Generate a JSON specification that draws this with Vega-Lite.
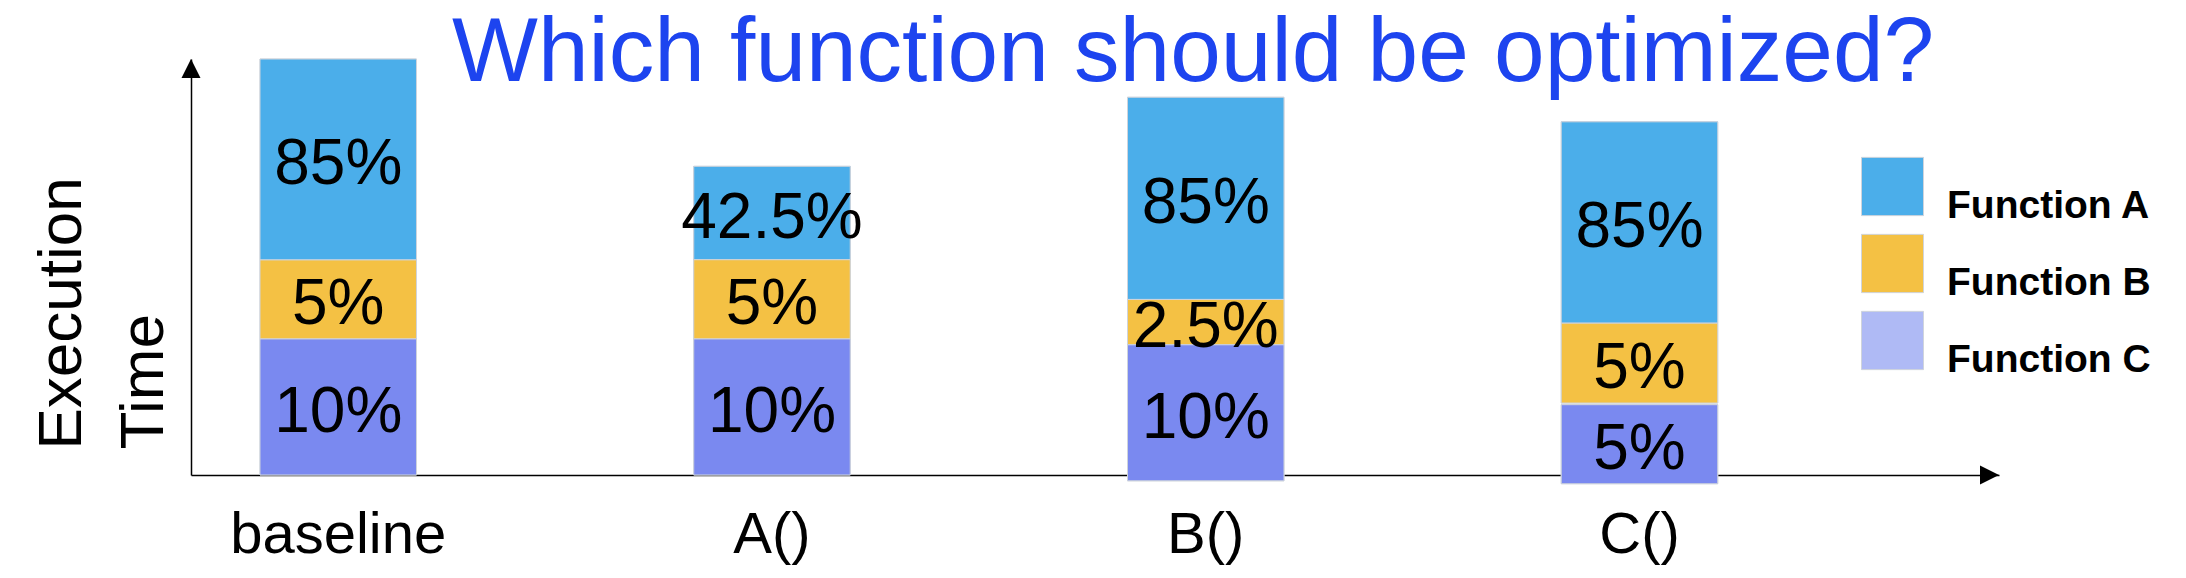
{
  "$schema": "https://vega.github.io/schema/vega-lite/v6.json",
  "width": 1808,
  "height": 416,
  "autosize": "none",
  "padding": {"left": 191, "top": 59, "right": 187, "bottom": 103},
  "background": "white",
  "config": {"view": {"stroke": null}, "font": "Liberation Sans"},
  "title": {
    "text": "Which function should be optimized?",
    "anchor": "start",
    "frame": "group",
    "font": "Liberation Sans",
    "fontSize": 91,
    "fontWeight": "normal",
    "color": "#1d44ef",
    "baseline": "alphabetic",
    "offset": -113,
    "dx": 261,
    "limit": 0
  },
  "data": {
    "values": [
      {"config": "baseline", "func": "Function A", "start": 51.7, "end": 100, "label": "85%"},
      {"config": "baseline", "func": "Function B", "start": 32.7, "end": 51.7, "label": "5%"},
      {"config": "baseline", "func": "Function C", "start": 0, "end": 32.7, "label": "10%"},
      {"config": "A()", "func": "Function A", "start": 51.75, "end": 74.2, "label": "42.5%"},
      {"config": "A()", "func": "Function B", "start": 32.7, "end": 51.75, "label": "5%"},
      {"config": "A()", "func": "Function C", "start": 0, "end": 32.7, "label": "10%"},
      {"config": "B()", "func": "Function A", "start": 42.2, "end": 90.8, "label": "85%"},
      {"config": "B()", "func": "Function B", "start": 31.3, "end": 42.2, "label": "2.5%"},
      {"config": "B()", "func": "Function C", "start": -1.4, "end": 31.3, "label": "10%"},
      {"config": "C()", "func": "Function A", "start": 36.5, "end": 84.9, "label": "85%"},
      {"config": "C()", "func": "Function B", "start": 17.3, "end": 36.5, "label": "5%"},
      {"config": "C()", "func": "Function C", "start": -2.1, "end": 16.9, "label": "5%"}
    ]
  },
  "layer": [
    {
      "layer": [
        {
          "mark": {"type": "bar", "stroke": "#cfd4dc", "strokeWidth": 1},
          "encoding": {
            "x": {
              "field": "config", "type": "nominal",
              "sort": ["baseline", "A()", "B()", "C()"],
              "scale": {"paddingInner": 0.6392, "paddingOuter": 0.40375, "align": 0.197},
              "axis": {
                "title": null, "ticks": false, "labelAngle": 0,
                "domainColor": "#000", "domainWidth": 1.5,
                "labelFont": "Liberation Sans", "labelFontSize": 58, "labelColor": "#000",
                "labelBaseline": "alphabetic", "labelPadding": 77, "labelLimit": 1000
              }
            },
            "y": {
              "field": "start", "type": "quantitative",
              "scale": {"domain": [0, 100], "nice": false},
              "axis": {
                "title": ["Execution", "Time"], "labels": false, "ticks": false, "grid": false,
                "domainColor": "#000", "domainWidth": 1.5,
                "titleFont": "Liberation Sans", "titleFontSize": 62, "titleFontWeight": "normal",
                "titleColor": "#000", "titleAngle": -90, "titleAlign": "left",
                "titleBaseline": "alphabetic", "titleX": -111, "titleY": 390, "titleLineHeight": 82,
                "titleLimit": 1000
              }
            },
            "y2": {"field": "end"},
            "fill": {
              "field": "func", "type": "nominal",
              "scale": {"domain": ["Function A", "Function B", "Function C"], "range": ["#4baeea", "#f4c144", "#afbaf5"]},
              "legend": {
                "orient": "none", "legendX": 1670, "legendY": 96, "title": null,
                "symbolType": "M-1,-0.94H1V0.94H-1Z", "symbolSize": 3844,
                "symbolStrokeColor": "#cfd4dc", "symbolStrokeWidth": 1, "symbolOpacity": 1,
                "labelFont": "Liberation Sans", "labelFontSize": 39, "labelFontWeight": "bold",
                "labelColor": "#000", "labelOffset": 23, "labelBaseline": "top", "rowPadding": 6,
                "labelLimit": 1000
              }
            }
          }
        },
        {
          "mark": {"type": "bar", "stroke": "#cfd4dc", "strokeWidth": 1},
          "encoding": {
            "x": {"field": "config", "type": "nominal", "sort": ["baseline", "A()", "B()", "C()"]},
            "y": {"field": "start", "type": "quantitative"},
            "y2": {"field": "end"},
            "color": {
              "field": "func", "type": "nominal",
              "scale": {"domain": ["Function A", "Function B", "Function C"], "range": ["#4baeea", "#f4c144", "#7a89f0"]},
              "legend": null
            }
          }
        },
        {
          "transform": [{"fold": ["start", "end"], "as": ["edge", "pos"]}],
          "mark": {"type": "text", "font": "Liberation Sans", "fontSize": 64, "color": "#000", "baseline": "middle", "align": "center", "dy": 6},
          "encoding": {
            "x": {"field": "config", "type": "nominal", "sort": ["baseline", "A()", "B()", "C()"]},
            "y": {"field": "pos", "aggregate": "mean", "type": "quantitative"},
            "detail": {"field": "func", "type": "nominal"},
            "text": {"field": "label", "type": "nominal"}
          }
        }
      ]
    },
    {
      "data": {"values": [{"axis": "time"}]},
      "layer": [
        {
          "mark": {"type": "point", "shape": "M0,0L1,2L-1,2Z", "size": 361, "filled": true, "color": "#000", "opacity": 1},
          "encoding": {
            "x": {"datum": 0, "type": "quantitative", "scale": {"domain": [0, 1]}, "axis": null},
            "y": {"datum": 1, "type": "quantitative", "scale": {"domain": [0, 1]}, "axis": null}
          }
        },
        {
          "mark": {"type": "point", "shape": "M0,0L-2,-1L-2,1Z", "size": 361, "filled": true, "color": "#000", "opacity": 1},
          "encoding": {
            "x": {"datum": 1, "type": "quantitative", "scale": {"domain": [0, 1]}, "axis": null},
            "y": {"datum": 0, "type": "quantitative", "scale": {"domain": [0, 1]}, "axis": null}
          }
        }
      ]
    }
  ],
  "resolve": {"scale": {"x": "independent", "y": "independent"}}
}
